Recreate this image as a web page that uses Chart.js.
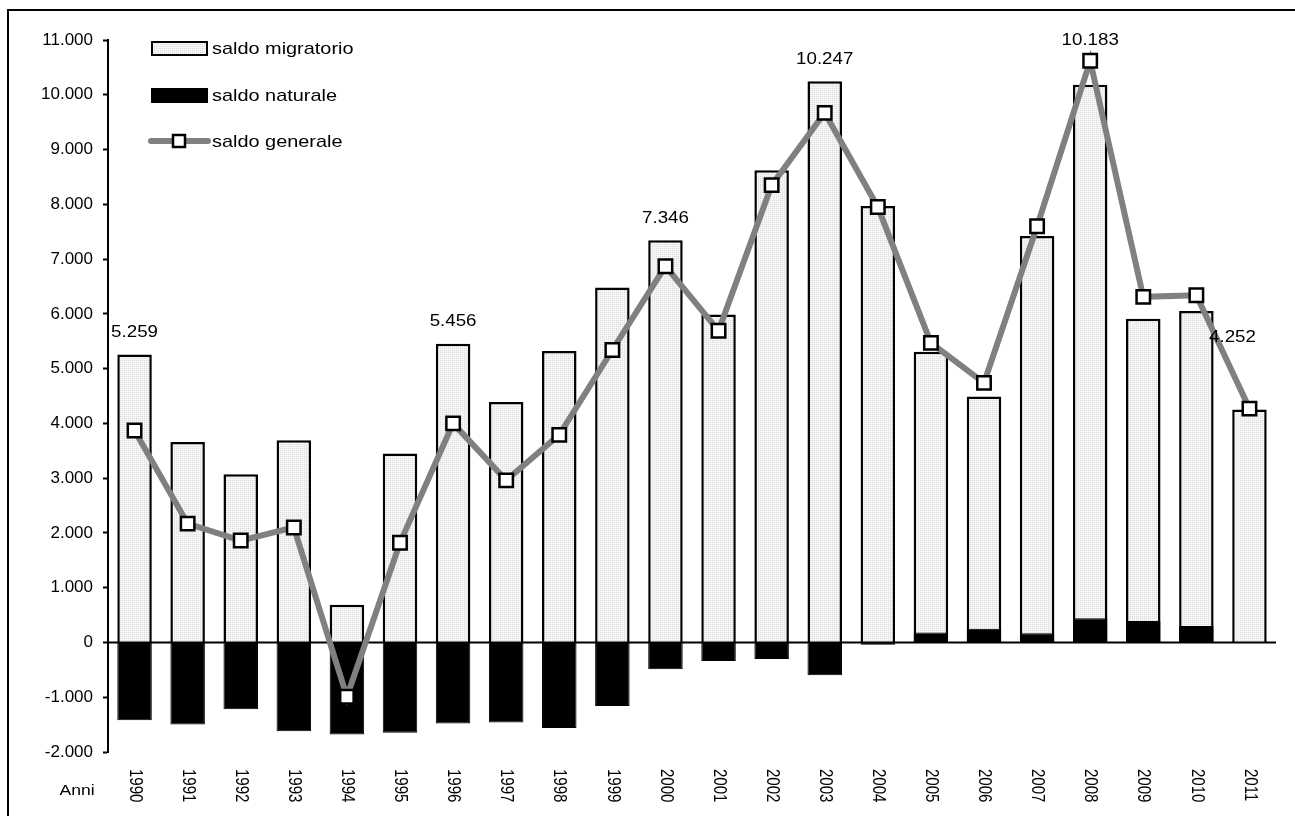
<!DOCTYPE html>
<html>
<head>
<meta charset="utf-8">
<script src="https://cdn.jsdelivr.net/npm/chart.js@4.4.0/dist/chart.umd.min.js"></script>
<style>
html, body { margin: 0; padding: 0; background: #fff; overflow: hidden; }
#cornice { position: absolute; left: 7px; top: 9px; width: 1300px; height: 820px; border-left: 2px solid #000; border-top: 2px solid #000; }
#grafico { position: absolute; left: 0; top: 0; }
</style>
</head>
<body>
<div id="cornice"></div>
<canvas id="grafico" width="1295" height="816"></canvas>
<script>
// dati
const anni = ['1990','1991','1992','1993','1994','1995','1996','1997','1998','1999','2000',
              '2001','2002','2003','2004','2005','2006','2007','2008','2009','2010','2011'];
const saldoMigratorio = [5259, 3660, 3070, 3690, 690, 3450, 5456, 4390, 5320, 6480, 7346,
                         5990, 8620, 10247, 7970, 5310, 4490, 7420, 10183, 5910, 6050, 4252];
const saldoNaturale = [-1420, -1500, -1220, -1620, -1680, -1650, -1480, -1460, -1560, -1160, -490,
                       -340, -300, -600, -40, 180, 250, 170, 440, 390, 300, 10];
const saldoGenerale = [3870, 2170, 1860, 2100, -990, 1820, 4000, 2960, 3790, 5340, 6870,
                       5690, 8350, 9670, 7950, 5470, 4740, 7600, 10620, 6310, 6340, 4270];
const etichette = ['1990', '1996', '2000', '2003', '2008', '2011'];
const tickY = { min: -2000, max: 11000, passo: 1000 };

const SX = 1.17; // il testo nell'originale e' un po' allargato
const FONT = '"Liberation Sans", Arial, sans-serif';

function fmt(v) {
  return Number(v).toFixed(0).replace(/\B(?=(\d{3})+(?!\d))/g, '.');
}

function testo(ctx, s, x, y, align, size) {
  ctx.save();
  ctx.font = size + 'px ' + FONT;
  ctx.fillStyle = '#000';
  ctx.textAlign = align;
  ctx.textBaseline = 'middle';
  ctx.translate(x, y);
  ctx.scale(SX, 1);
  ctx.fillText(s, 0, 0);
  ctx.restore();
}

const canvas = document.getElementById('grafico');
const ctx0 = canvas.getContext('2d');
const pc = document.createElement('canvas');
pc.width = 2; pc.height = 2;
const g = pc.getContext('2d');
g.fillStyle = '#f6f6f6'; g.fillRect(0, 0, 2, 2);
g.fillStyle = '#dadada'; g.fillRect(0, 0, 1, 1);
const puntinato = ctx0.createPattern(pc, 'repeat');

// linea dello zero sopra le barre, sotto la linea grigia
const lineaZero = {
  id: 'lineaZero',
  beforeDatasetDraw(chart, args) {
    if (args.index !== 2) return;
    const c = chart.ctx, a = chart.chartArea;
    const y0 = chart.scales.y.getPixelForValue(0);
    c.save();
    c.strokeStyle = '#000';
    c.lineWidth = 2;
    c.beginPath();
    c.moveTo(a.left, y0);
    c.lineTo(a.right, y0);
    c.stroke();
    c.restore();
  }
};

const spostaEtichetta = { '2011': { dx: -17, dy: -51 } };

const testi = {
  id: 'testi',
  afterDraw(chart) {
    const c = chart.ctx, a = chart.chartArea;
    const xs = chart.scales.x, ys = chart.scales.y;

    // anni sotto l'asse, ruotati
    c.save();
    c.font = '15px ' + FONT;
    c.fillStyle = '#000';
    c.textAlign = 'left';
    c.textBaseline = 'middle';
    anni.forEach((an, i) => {
      c.save();
      c.translate(xs.getPixelForValue(i), a.bottom + 17);
      c.scale(SX, 1);
      c.rotate(Math.PI / 2);
      c.fillText(an, 0, 0);
      c.restore();
    });
    c.restore();
    testo(c, 'Anni', a.left - 31, a.bottom + 39, 'center', 15);

    // valori sopra alcune barre
    etichette.forEach(an => {
      const i = anni.indexOf(an);
      const yBar = ys.getPixelForValue(saldoMigratorio[i]);
      const yPt = ys.getPixelForValue(saldoGenerale[i]);
      let y = yPt < yBar ? yPt - 20 : yBar - 22;
      let x = xs.getPixelForValue(i);
      const s = spostaEtichetta[an];
      if (s) { x += s.dx; y += s.dy; }
      testo(c, fmt(saldoMigratorio[i]), x, y, 'center', 16);
    });

    // legenda
    const ds = chart.data.datasets;
    const lx = a.left + 44, tx = a.left + 104;
    const righe = [a.top + 8.5, a.top + 55.5, a.top + 101];
    c.save();
    c.lineWidth = 2;
    c.strokeStyle = '#000';
    c.fillStyle = ds[0].backgroundColor;
    c.fillRect(lx, righe[0] - 6.5, 55, 13);
    c.strokeRect(lx, righe[0] - 6.5, 55, 13);
    c.fillStyle = ds[1].backgroundColor;
    c.fillRect(lx, righe[1] - 6.5, 55, 13);
    c.strokeRect(lx, righe[1] - 6.5, 55, 13);
    c.strokeStyle = ds[2].borderColor;
    c.lineWidth = ds[2].borderWidth;
    c.lineCap = 'round';
    c.beginPath();
    c.moveTo(lx - 1, righe[2]);
    c.lineTo(lx + 56, righe[2]);
    c.stroke();
    c.fillStyle = '#fff';
    c.strokeStyle = '#000';
    c.lineWidth = 2.5;
    c.fillRect(lx + 21, righe[2] - 6, 12, 12);
    c.strokeRect(lx + 21, righe[2] - 6, 12, 12);
    c.restore();
    ds.forEach((d, k) => testo(c, d.label, tx, righe[k] + 1, 'left', 17));
  }
};

new Chart(canvas, {
  type: 'bar',
  data: {
    labels: anni,
    datasets: [
      {
        label: 'saldo migratorio',
        data: saldoMigratorio,
        backgroundColor: puntinato,
        borderColor: '#000',
        borderWidth: 2.5,
        grouped: false,
        order: 2
      },
      {
        label: 'saldo naturale',
        data: saldoNaturale,
        backgroundColor: '#000',
        borderColor: '#000',
        borderWidth: 1,
        grouped: false,
        order: 1
      },
      {
        type: 'line',
        label: 'saldo generale',
        data: saldoGenerale,
        borderColor: '#808080',
        borderWidth: 6,
        tension: 0,
        pointStyle: 'rect',
        pointRadius: 9.5,
        pointBackgroundColor: '#fff',
        pointBorderColor: '#000',
        pointBorderWidth: 2.5,
        order: 0
      }
    ]
  },
  options: {
    responsive: false,
    animation: false,
    devicePixelRatio: 1,
    layout: { padding: { left: 8, right: 19, top: 40, bottom: 64 } },
    datasets: { bar: { barPercentage: 0.65, categoryPercentage: 1 } },
    plugins: { legend: { display: false }, tooltip: { enabled: false } },
    scales: {
      x: { display: false, grid: { display: false } },
      y: {
        min: tickY.min,
        max: tickY.max,
        afterFit(s) { s.width = 100; },
        ticks: {
          stepSize: tickY.passo,
          color: '#000',
          padding: 10,
          font: { family: FONT, size: 17 },
          callback: v => fmt(v)
        },
        grid: { drawOnChartArea: false, drawTicks: true, tickLength: 5, tickColor: '#000', tickWidth: 2 },
        border: { display: true, color: '#000', width: 2 }
      }
    }
  },
  plugins: [lineaZero, testi]
});
</script>
</body>
</html>
